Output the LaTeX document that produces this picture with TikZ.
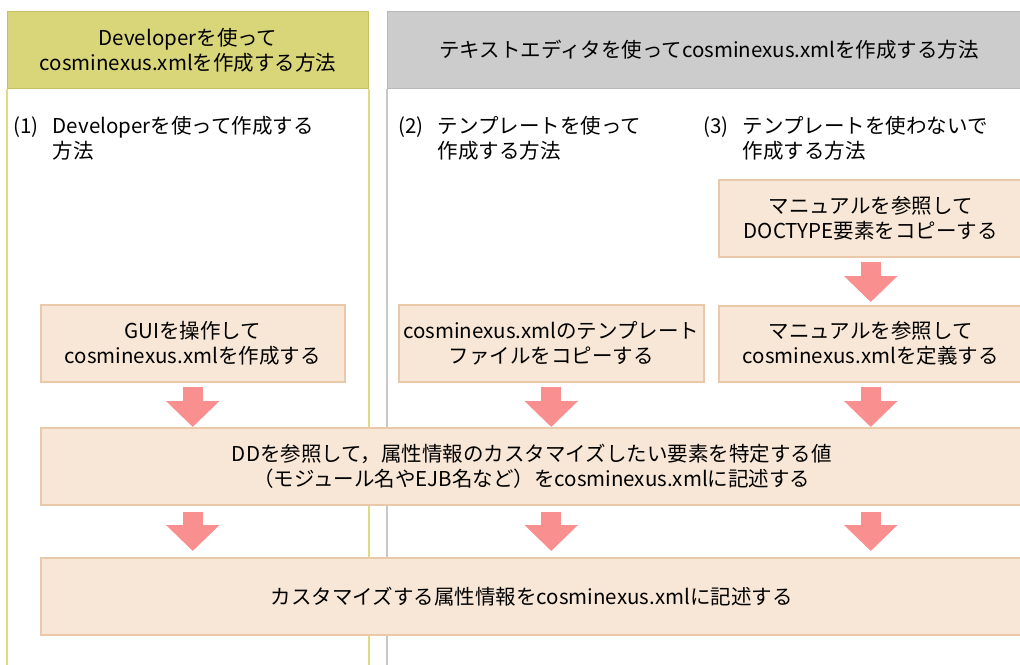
\documentclass[tikz,border=0pt]{standalone}
\usepackage{fontspec}
\setmainfont{Noto Sans CJK JP}
\usetikzlibrary{positioning,arrows.meta}
\definecolor{devfill}{RGB}{217,214,122}
\definecolor{devline}{RGB}{196,194,96}
\definecolor{devside}{RGB}{222,220,128}
\definecolor{edfill}{RGB}{204,204,204}
\definecolor{edline}{RGB}{184,184,184}
\definecolor{edside}{RGB}{200,200,200}
\definecolor{boxfill}{RGB}{248,231,214}
\definecolor{boxline}{RGB}{234,201,170}
\definecolor{flowred}{RGB}{250,143,143}
\begin{document}
\begin{tikzpicture}[x=1pt, y=-1pt,
    font=\fontsize{20.5}{25}\selectfont,
    head/.style={draw, line width=1.2pt, align=center, anchor=north west, minimum height=77pt, inner sep=0pt},
    devhead/.style={head, fill=devfill, draw=devline, minimum width=361pt},
    edhead/.style={head, fill=edfill, draw=edline, minimum width=643pt},
    box/.style={draw=boxline, fill=boxfill, line width=1.5pt, align=center, anchor=north west, inner sep=0pt, minimum height=77pt},
    num/.style={anchor=base west, inner sep=0pt},
    lab/.style={anchor=north west, inner sep=0pt, align=left},
    flow/.style={draw=flowred, line width=20pt, -{Triangle[length=26pt, width=52pt]}, shorten <=4pt}]

\clip (0,0) rectangle (1020,664);

% --- column heads
\node[devhead] (devhead) at (7,11) {Developerを使って\\cosminexus.xmlを作成する方法};
\node[edhead] (edhead) at (387,11) {テキストエディタを使ってcosminexus.xmlを作成する方法};
\draw[devside, line width=1.5pt] (devhead.south west) -- ++(0,600);
\draw[devside, line width=1.5pt] (devhead.south east) -- ++(0,600);
\draw[edside, line width=1.5pt] (edhead.south west) -- ++(0,600);

% --- method labels
\node[num] (n1) at (13,133) {(1)};
\node[lab] (t1) at ([xshift=14pt]n1.north east) {Developerを使って作成する\\方法};
\node[num] (n2) at (398,133) {(2)};
\node[lab] (t2) at ([xshift=14pt]n2.north east) {テンプレートを使って\\作成する方法};
\node[num] (n3) at (703,133) {(3)};
\node[lab] (t3) at ([xshift=14pt]n3.north east) {テンプレートを使わないで\\作成する方法};

% --- first steps
\node[box, minimum width=304pt] (gui) at (40,304) {GUIを操作して\\cosminexus.xmlを作成する};
\node[box, minimum width=305pt] (tmpl) at (398,304) {cosminexus.xmlのテンプレート\\ファイルをコピーする};
\node[box, minimum width=304pt] (doctype) at (718,179) {マニュアルを参照して\\DOCTYPE要素をコピーする};
\node[box, minimum width=304pt, minimum height=76pt] (define) at (718,305) {マニュアルを参照して\\cosminexus.xmlを定義する};
\draw[flow, shorten >=3pt] (doctype.south) -- (define.north);

% --- common steps
\node[box, minimum width=982pt] (dd) at (40,427)
    {DDを参照して，属性情報のカスタマイズしたい要素を特定する値\\（モジュール名やEJB名など）をcosminexus.xmlに記述する};
\node[box, minimum width=982pt] (attr) at (40,557) {カスタマイズする属性情報をcosminexus.xmlに記述する};

\draw[flow] (gui.south) -- (gui.south |- dd.north);
\draw[flow] (tmpl.south) -- (tmpl.south |- dd.north);
\draw[flow] (define.south) -- (define.south |- dd.north);
\draw[flow, shorten <=6pt, shorten >=6pt] (gui.south |- dd.south) -- (gui.south |- attr.north);
\draw[flow, shorten <=6pt, shorten >=6pt] (tmpl.south |- dd.south) -- (tmpl.south |- attr.north);
\draw[flow, shorten <=6pt, shorten >=6pt] (define.south |- dd.south) -- (define.south |- attr.north);
\end{tikzpicture}
\end{document}
